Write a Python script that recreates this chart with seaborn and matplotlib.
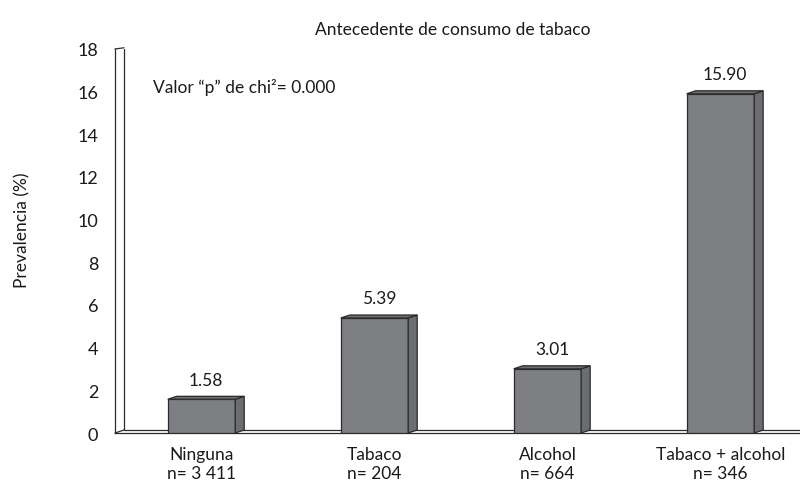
import matplotlib
matplotlib.use("Agg")
import matplotlib.pyplot as plt
from matplotlib.patches import Polygon
import pandas as pd
import seaborn as sns

# Data
categorias = ["Ninguna", "Tabaco", "Alcohol", "Tabaco + alcohol"]
muestras = ["n= 3 411", "n= 204", "n= 664", "n= 346"]
prevalencia = [1.58, 5.39, 3.01, 15.90]
etiquetas = ["1.58", "5.39", "3.01", "15.90"]
yticks = [0, 2, 4, 6, 8, 10, 12, 14, 16, 18]

df = pd.DataFrame({"grupo": categorias, "prev": prevalencia})

sns.set_style("white")
plt.rcParams["font.family"] = ["Lato", "DejaVu Sans"]
plt.rcParams["font.size"] = 12.5
plt.rcParams["text.color"] = "#1a1a1a"
plt.rcParams["xtick.color"] = "#1a1a1a"
plt.rcParams["ytick.color"] = "#1a1a1a"

fig = plt.figure(figsize=(8, 4.85), dpi=100)
ax = fig.add_axes([0.14375, 0.10515, 0.85625, 0.7918])

front = "#7e7f83"
side = "#6c6d71"
edge = "#2b2b2b"

sns.barplot(data=df, x="grupo", y="prev", color=front, width=0.39,
            saturation=1, edgecolor=edge, linewidth=0.9, ax=ax, zorder=3)

ax.set_xlim(-0.5, 3.46)
ax.set_ylim(0, 18)

# pixel offsets for the fake depth of the 3D look
fig.canvas.draw()
px_x = ax.transData.transform((1, 0))[0] - ax.transData.transform((0, 0))[0]
px_y = ax.transData.transform((0, 1))[1] - ax.transData.transform((0, 0))[1]
dx = 9 / px_x
dy = 3 / px_y

for i, p in enumerate(ax.patches):
    x0 = p.get_x()
    w = p.get_width()
    h = p.get_height()
    x1 = x0 + w
    side_pts = [(x1, 0), (x1 + dx, dy), (x1 + dx, h + dy), (x1, h)]
    top_pts = [(x0, h), (x0 + dx, h + dy), (x1 + dx, h + dy), (x1, h)]
    ax.add_patch(Polygon(side_pts, closed=True, facecolor=side, edgecolor=edge,
                         linewidth=0.9, zorder=3))
    ax.add_patch(Polygon(top_pts, closed=True, facecolor=side, edgecolor=edge,
                         linewidth=0.9, zorder=3))
    ax.text(x0 + w / 2 + dx / 2, h + 0.55, etiquetas[i], ha="center",
            va="bottom", fontsize=12.5)

# back wall and floor lines
ax.plot([-0.5 + dx, -0.5 + dx], [dy, 18], color=edge, lw=0.9, zorder=2, clip_on=False)
ax.plot([-0.5, -0.5 + dx], [18, 18 + dy * 0.4], color=edge, lw=0.9, zorder=2, clip_on=False)
ax.plot([-0.5, -0.5 + dx], [0, dy], color=edge, lw=0.9, zorder=2, clip_on=False)
ax.plot([-0.5 + dx, 3.46], [dy, dy], color=edge, lw=0.9, zorder=2, clip_on=False)

for s in ["top", "right"]:
    ax.spines[s].set_visible(False)
for s in ["left", "bottom"]:
    ax.spines[s].set_color(edge)
    ax.spines[s].set_linewidth(0.9)

ax.set_yticks(yticks)
ax.tick_params(axis="y", length=7, width=0.9, color=edge, pad=5, labelsize=13)
ax.set_xticks(range(len(categorias)))
ax.set_xticklabels([c + "\n" + n for c, n in zip(categorias, muestras)],
                   fontsize=12.5, linespacing=1.3)
ax.tick_params(axis="x", which="major", length=0, pad=9)
ax.set_xticks([-0.5, 0.5, 1.5, 2.5], minor=True)
ax.tick_params(axis="x", which="minor", length=7, width=0.9, color=edge)

ax.set_xlabel("")
ax.set_ylabel("")
fig.text(22 / 800, 1 - 230 / 485, "Prevalencia (%)", rotation=90,
         ha="center", va="center", fontsize=12.5)
fig.text(453 / 800, 1 - 30 / 485, "Antecedente de consumo de tabaco",
         ha="center", va="center", fontsize=12.5)
ax.text(153 / 800, 1 - 88 / 485, "Valor \u201cp\u201d de chi\u00b2= 0.000",
        transform=fig.transFigure, ha="left", va="center", fontsize=12.5)

fig.savefig("out.png", dpi=100)
